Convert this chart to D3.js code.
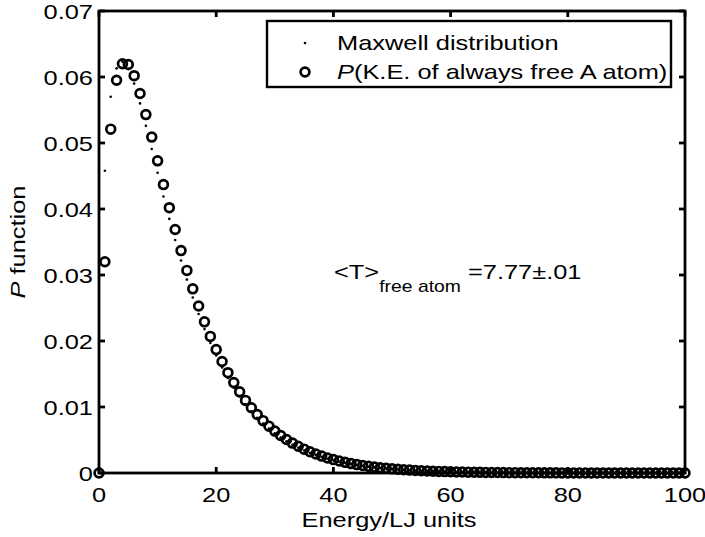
<!DOCTYPE html>
<html>
<head>
<meta charset="utf-8">
<script src="https://cdn.jsdelivr.net/npm/d3@7"></script>
<style>
  html, body { margin: 0; padding: 0; background: #fff; }
  svg { display: block; font-family: "Liberation Sans", Arial, sans-serif; }
</style>
</head>
<body>
<svg id="chart" width="705" height="537"></svg>
<script>
// Energy bins (LJ units)
const energies = d3.range(0, 101);

// Maxwell distribution evaluated at each energy
const maxwell = [
  0, 0.0458, 0.0570, 0.0613, 0.0623, 0.0612, 0.0590, 0.0560, 0.0526, 0.0491,
  0.0455, 0.0419, 0.0385, 0.0353, 0.0322, 0.0293, 0.0266, 0.0241, 0.0218, 0.0197,
  0.0178, 0.0160, 0.0144, 0.0129, 0.0116, 0.0104, 0.00936, 0.00838, 0.00751, 0.00672,
  0.00601, 0.00537, 0.00480, 0.00428, 0.00382, 0.00341, 0.00304, 0.00271, 0.00241, 0.00215,
  0.00192, 0.00170, 0.00152, 0.00135, 0.00120, 0.00107, 0.000949, 0.000843, 0.000749, 0.000666,
  0.000591, 0.000525, 0.000466, 0.000414, 0.000367, 0.000326, 0.000289, 0.000256, 0.000227, 0.000202,
  0.000179, 0.000158, 0.000141, 0.000125, 0.000110, 0.0000978, 0.0000866, 0.0000767, 0.0000680, 0.0000602,
  0.0000533, 0.0000472, 0.0000418, 0.0000370, 0.0000328, 0.0000290, 0.0000257, 0.0000227, 0.0000201, 0.0000178,
  0.0000157, 0.0000139, 0.0000123, 0.0000109, 0.0000096, 0.0000085, 0.0000075, 0.0000066, 0.0000058, 0.0000051,
  0.0000046, 0.0000040, 0.0000036, 0.0000031, 0.0000028, 0.0000025, 0.0000022, 0.0000019, 0.0000017, 0.0000015,
  0.0000013
];

// Kinetic-energy probability of an always-free A atom
const freeAtom = [
  0, 0.0320, 0.0521, 0.0595, 0.0620, 0.0619, 0.0602, 0.0575, 0.0543, 0.0509,
  0.0473, 0.0437, 0.0402, 0.0369, 0.0337, 0.0307, 0.0279, 0.0253, 0.0229, 0.0207,
  0.0187, 0.0169, 0.0152, 0.0137, 0.0123, 0.0110, 0.00988, 0.00886, 0.00793, 0.00710,
  0.00635, 0.00568, 0.00507, 0.00453, 0.00405, 0.00361, 0.00322, 0.00287, 0.00256, 0.00228,
  0.00203, 0.00181, 0.00161, 0.00143, 0.00127, 0.00113, 0.00101, 0.000894, 0.000795, 0.000706,
  0.000627, 0.000557, 0.000495, 0.000439, 0.000390, 0.000346, 0.000307, 0.000272, 0.000241, 0.000214,
  0.000190, 0.000168, 0.000149, 0.000132, 0.000117, 0.000104, 0.0000920, 0.0000815, 0.0000722, 0.0000640,
  0.0000567, 0.0000502, 0.0000444, 0.0000393, 0.0000348, 0.0000308, 0.0000273, 0.0000241, 0.0000213, 0.0000189,
  0.0000167, 0.0000148, 0.0000131, 0.0000116, 0.0000102, 0.0000090, 0.0000080, 0.0000070, 0.0000062, 0.0000055,
  0.0000048, 0.0000043, 0.0000038, 0.0000033, 0.0000029, 0.0000026, 0.0000023, 0.0000020, 0.0000018, 0.0000016,
  0.0000014
];

const xTicks = [0, 20, 40, 60, 80, 100];
const yTicks = [0, 0.01, 0.02, 0.03, 0.04, 0.05, 0.06, 0.07];
const yTickLabels = ["0", "0.01", "0.02", "0.03", "0.04", "0.05", "0.06", "0.07"];

const svg = d3.select("#chart");
const m = { left: 99, right: 685, top: 11, bottom: 473 };
const x = d3.scaleLinear().domain([0, 100]).range([m.left, m.right]);
const y = d3.scaleLinear().domain([0, 0.07]).range([m.bottom, m.top]);

const fontSize = 21;
const stretch = 1.21;   // glyphs are drawn slightly wide
const axisW = 2.8;
const tickLen = 6;

// Text placed at (tx, ty) with a horizontal stretch
function label(parent, tx, ty, anchor, rot) {
  const r = rot ? ` rotate(${rot})` : "";
  return parent.append("text")
    .attr("transform", `translate(${tx},${ty})${r} scale(${stretch},1)`)
    .attr("text-anchor", anchor || "start")
    .attr("font-size", fontSize);
}

// Tick marks on all four sides, pointing inwards
const g = svg.append("g");
xTicks.forEach(t => {
  g.append("line").attr("x1", x(t)).attr("x2", x(t)).attr("y1", m.bottom).attr("y2", m.bottom - tickLen)
    .attr("stroke", "#000").attr("stroke-width", axisW);
  g.append("line").attr("x1", x(t)).attr("x2", x(t)).attr("y1", m.top).attr("y2", m.top + tickLen)
    .attr("stroke", "#000").attr("stroke-width", axisW);
  label(g, x(t), 502, "middle").text(t);
});
yTicks.forEach((t, i) => {
  g.append("line").attr("x1", m.left).attr("x2", m.left + tickLen).attr("y1", y(t)).attr("y2", y(t))
    .attr("stroke", "#000").attr("stroke-width", axisW);
  g.append("line").attr("x1", m.right).attr("x2", m.right - tickLen).attr("y1", y(t)).attr("y2", y(t))
    .attr("stroke", "#000").attr("stroke-width", axisW);
  label(g, 93, y(t) + 7.5, "end").text(yTickLabels[i]);
});

// Frame
g.append("rect").attr("x", m.left).attr("y", m.top)
  .attr("width", m.right - m.left).attr("height", m.bottom - m.top)
  .attr("fill", "none").attr("stroke", "#000").attr("stroke-width", axisW);

// Data: circles for the free-atom distribution, dots for Maxwell
const pts = energies.map((e, i) => ({ e, p: freeAtom[i], mx: maxwell[i] }));
svg.append("g").selectAll("circle").data(pts).join("circle")
  .attr("cx", d => x(d.e)).attr("cy", d => y(d.p)).attr("r", 4.4)
  .attr("fill", "none").attr("stroke", "#000").attr("stroke-width", 2.7);
svg.append("g").selectAll("circle").data(pts).join("circle")
  .attr("cx", d => x(d.e)).attr("cy", d => y(d.mx)).attr("r", 1.3)
  .attr("fill", "#000");

// Axis titles
label(svg, (m.left + m.right) / 2 - 3, 527, "middle").text("Energy/LJ units");
const yl = label(svg, 25, (m.top + m.bottom) / 2, "middle", -90);
yl.append("tspan").attr("font-style", "italic").text("P");
yl.append("tspan").text(" function");

// Legend
const lg = svg.append("g");
lg.append("rect").attr("x", 267).attr("y", 21).attr("width", 404).attr("height", 66)
  .attr("fill", "#fff").attr("stroke", "#000").attr("stroke-width", 2.4);
lg.append("circle").attr("cx", 305).attr("cy", 43).attr("r", 1.3).attr("fill", "#000");
label(lg, 337, 50).text("Maxwell distribution");
lg.append("circle").attr("cx", 305).attr("cy", 72).attr("r", 4.4)
  .attr("fill", "none").attr("stroke", "#000").attr("stroke-width", 2.7);
const l2 = label(lg, 337, 79);
l2.append("tspan").attr("font-style", "italic").text("P");
l2.append("tspan").text("(K.E. of always free A atom)");

// Mean kinetic energy annotation
const ann = label(svg, 334, 279);
ann.append("tspan").text("<T>");
ann.append("tspan").attr("font-size", 16).attr("dy", 13).text("free atom");
ann.append("tspan").attr("dy", -13).text(" =7.77\u00b1.01");
</script>
</body>
</html>
